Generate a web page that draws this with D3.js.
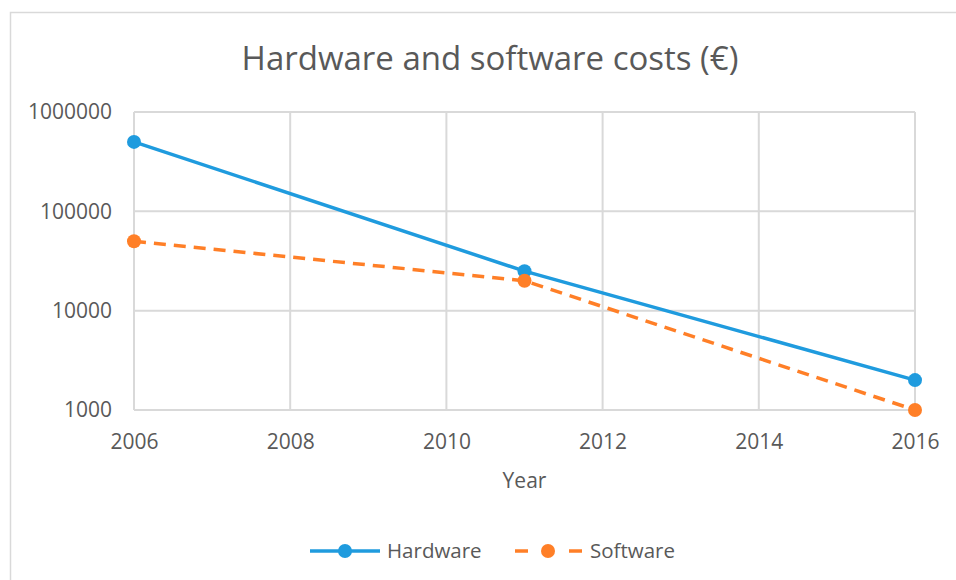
<!DOCTYPE html>
<html>
<head>
<meta charset="utf-8">
<style>
  body { margin: 0; background: #fff; }
  text { font-family: "Open Sans", sans-serif; fill: #595959; }
</style>
</head>
<body>
<svg width="956" height="580"></svg>
<script src="https://d3js.org/d3.v7.min.js"></script>
<script>

var years = [2006, 2011, 2016];
var hardware = [500000, 25000, 2000];
var software = [50000, 20000, 1000];
var xTicks = [2006, 2008, 2010, 2012, 2014, 2016];
var yTicks = [1000, 10000, 100000, 1000000];

var svg = d3.select("svg");

var margin = {top: 112, right: 41, bottom: 170, left: 134};
var width = 956 - margin.left - margin.right,
    height = 580 - margin.top - margin.bottom;

// chart frame
svg.append("rect")
    .attr("x", 10.5).attr("y", 12.5)
    .attr("width", 980).attr("height", 600)
    .attr("fill", "none")
    .attr("stroke", "#d9d9d9")
    .attr("stroke-width", 1.5);

svg.append("text")
    .attr("x", 490).attr("y", 70)
    .attr("text-anchor", "middle")
    .attr("font-size", 33)
    .text("Hardware and software costs (€)");

var x = d3.scaleLinear().domain([2006, 2016]).range([0, width]);
var y = d3.scaleLog().domain([1000, 1000000]).range([height, 0]);

var g = svg.append("g")
    .attr("transform", "translate(" + margin.left + "," + margin.top + ")");

// gridlines
g.append("g").selectAll("line")
  .data(yTicks)
  .enter().append("line")
    .attr("x1", 0).attr("x2", width)
    .attr("y1", function(d) { return y(d); })
    .attr("y2", function(d) { return y(d); })
    .attr("stroke", "#d9d9d9")
    .attr("stroke-width", 2);

g.append("g").selectAll("line")
  .data(xTicks)
  .enter().append("line")
    .attr("x1", function(d) { return x(d); })
    .attr("x2", function(d) { return x(d); })
    .attr("y1", 0).attr("y2", height)
    .attr("stroke", "#d9d9d9")
    .attr("stroke-width", 2);

// axes (labels only)
var yAxis = g.append("g")
    .call(d3.axisLeft(y).tickValues(yTicks).tickFormat(d3.format("d")).tickSize(0).tickPadding(22));
yAxis.select(".domain").remove();
yAxis.selectAll("text").attr("font-size", 21).attr("fill", "#595959").attr("font-family", "'Open Sans', sans-serif");

var xAxis = g.append("g")
    .attr("transform", "translate(0," + height + ")")
    .call(d3.axisBottom(x).tickValues(xTicks).tickFormat(d3.format("d")).tickSize(0).tickPadding(24));
xAxis.select(".domain").remove();
xAxis.selectAll("text").attr("font-size", 21).attr("fill", "#595959").attr("font-family", "'Open Sans', sans-serif");

g.append("text")
    .attr("x", width / 2).attr("y", height + 78)
    .attr("text-anchor", "middle")
    .attr("font-size", 21)
    .text("Year");

var line = d3.line()
    .x(function(d) { return x(d[0]); })
    .y(function(d) { return y(d[1]); });

var series = [
  {name: "Hardware", values: hardware, color: "#1f9bde", dash: null},
  {name: "Software", values: software, color: "#ff7f27", dash: "12,8"}
];

series.forEach(function(s) {
  var pts = years.map(function(yr, i) { return [yr, s.values[i]]; });
  g.append("path")
      .datum(pts)
      .attr("fill", "none")
      .attr("stroke", s.color)
      .attr("stroke-width", 3.5)
      .attr("stroke-dasharray", s.dash)
      .attr("d", line);
  g.selectAll(null)
    .data(pts)
    .enter().append("circle")
      .attr("cx", function(d) { return x(d[0]); })
      .attr("cy", function(d) { return y(d[1]); })
      .attr("r", 7)
      .attr("fill", s.color);
});

// legend
var legend = svg.append("g").attr("transform", "translate(0,551)");
var legX = [310, 513];
series.forEach(function(s, i) {
  var lg = legend.append("g").attr("transform", "translate(" + legX[i] + ",0)");
  if (s.dash) {
    lg.append("line").attr("x1", 2).attr("x2", 15).attr("stroke", s.color).attr("stroke-width", 3.5);
    lg.append("line").attr("x1", 56).attr("x2", 69).attr("stroke", s.color).attr("stroke-width", 3.5);
  } else {
    lg.append("line").attr("x1", 0).attr("x2", 70).attr("stroke", s.color).attr("stroke-width", 3.5);
  }
  lg.append("circle").attr("cx", 35).attr("r", 7).attr("fill", s.color);
  lg.append("text").attr("x", 77).attr("dy", "0.35em").attr("font-size", 20.5).text(s.name);
});

</script>
</body>
</html>
